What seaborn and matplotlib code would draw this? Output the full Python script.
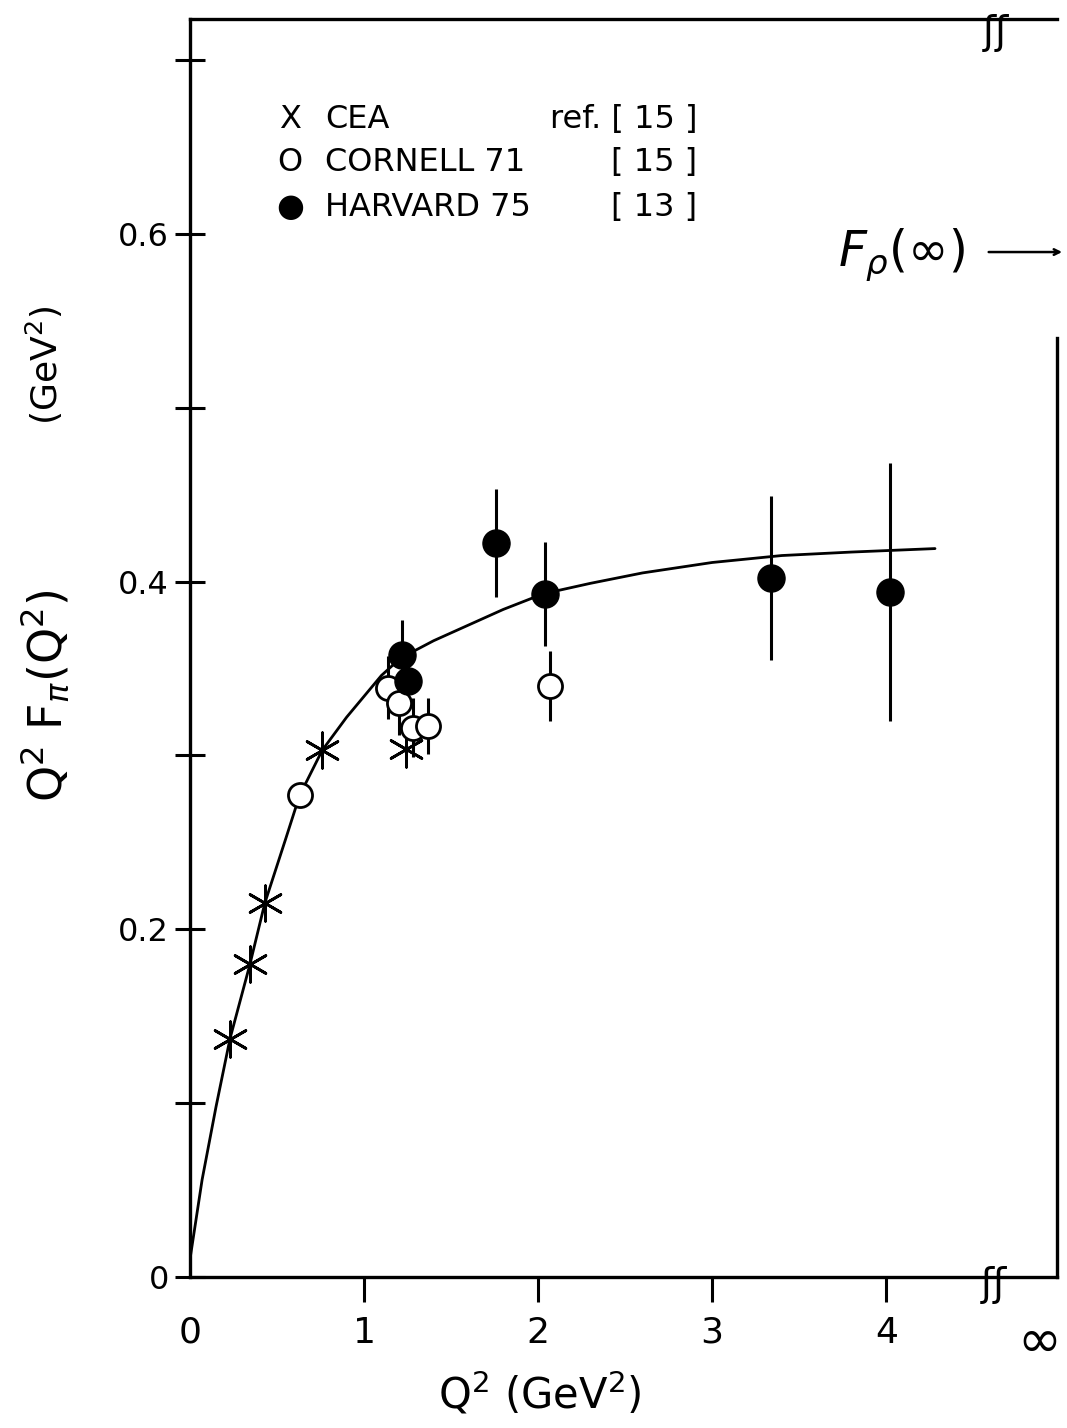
import numpy as np
import pandas as pd
import seaborn as sns
import matplotlib.pyplot as plt

# CEA, ref. [15]
cea_q2 = [0.23, 0.345, 0.43, 0.76, 1.24]
cea_val = [0.137, 0.180, 0.215, 0.303, 0.304]

# CORNELL 71, ref. [15]
cornell_q2 = [0.63, 1.14, 1.20, 1.28, 1.37, 2.07]
cornell_val = [0.277, 0.339, 0.330, 0.316, 0.317, 0.340]
cornell_err = [0.0, 0.018, 0.018, 0.017, 0.016, 0.020]

# HARVARD 75, ref. [13]
harvard_q2 = [1.22, 1.25, 1.76, 2.04, 3.34, 4.02]
harvard_val = [0.358, 0.343, 0.422, 0.393, 0.402, 0.394]
harvard_err = [0.020, 0.015, 0.031, 0.030, 0.047, 0.074]

# curve
curve_q2 = [0.0, 0.07, 0.15, 0.23, 0.345, 0.43, 0.55, 0.63, 0.76, 0.9, 1.0,
            1.1, 1.21, 1.4, 1.6, 1.8, 2.03, 2.3, 2.6, 3.0, 3.4, 3.8, 4.28]
curve_val = [0.01, 0.056, 0.098, 0.137, 0.180, 0.215, 0.252, 0.277, 0.303,
             0.322, 0.334, 0.346, 0.356, 0.366, 0.375, 0.384, 0.393, 0.399,
             0.405, 0.411, 0.415, 0.417, 0.419]

x_ticks = [0, 1, 2, 3, 4, 4.88]
x_labels = ['0', '1', '2', '3', '4', '\u221e']
y_ticks = [0, 0.1, 0.2, 0.3, 0.4, 0.5, 0.6, 0.7]
y_labels = ['0', '', '0.2', '', '0.4', '', '0.6', '']

legend_sym = ['X', 'O', '\u25cf']
legend_name = ['CEA', 'CORNELL 71', 'HARVARD 75']
legend_ref = ['ref. [ 15 ]', '[ 15 ]', '[ 13 ]']

sns.set_style("ticks")
plt.rcParams['font.family'] = ['DejaVu Sans']
plt.rcParams['text.color'] = 'black'
plt.rcParams['xtick.color'] = 'black'
plt.rcParams['ytick.color'] = 'black'

fig = plt.figure(figsize=(10.67, 14.28), dpi=100)
ax = fig.add_axes([0.178, 0.1057, 0.8125, 0.881])

sns.lineplot(x=curve_q2, y=curve_val, ax=ax, color='black', linewidth=2.0,
             sort=False, zorder=2)

ax.errorbar(cornell_q2, cornell_val, yerr=cornell_err, fmt='none',
            ecolor='black', elinewidth=2.2, capsize=0, zorder=3)
ax.errorbar(harvard_q2, harvard_val, yerr=harvard_err, fmt='none',
            ecolor='black', elinewidth=2.2, capsize=0, zorder=3)

sns.scatterplot(x=cea_q2, y=cea_val, ax=ax, marker=(6, 2, 0), s=650,
                color='black', edgecolor='black', linewidth=2.0, zorder=5)
sns.scatterplot(x=cornell_q2, y=cornell_val, ax=ax, marker='o', s=300,
                facecolor='white', edgecolor='black', linewidth=2.0, zorder=5)
sns.scatterplot(x=harvard_q2, y=harvard_val, ax=ax, marker='o', s=380,
                color='black', edgecolor='black', linewidth=1.0, zorder=6)

ax.set_xlim(0, 4.98)
ax.set_ylim(0, 0.7236)

ax.set_xticks(x_ticks)
ax.set_xticklabels(x_labels, fontsize=26)
ax.set_yticks(y_ticks)
ax.set_yticklabels(y_labels, fontsize=23)
ax.tick_params(axis='x', direction='out', length=18, width=2.2, pad=10)
ax.tick_params(axis='y', direction='inout', length=22, width=2.2, pad=4)
xt = ax.xaxis.get_major_ticks()
xt[0].tick1line.set_visible(False)
xt[-1].tick1line.set_visible(False)
xt[-1].label1.set_fontsize(38)

for s in ['left', 'bottom', 'top', 'right']:
    ax.spines[s].set_linewidth(2.4)
    ax.spines[s].set_color('black')
ax.spines['right'].set_bounds(0, 0.54)
ax.set_xlabel('')
ax.set_ylabel('')

# legend block
rows_y = [0.666, 0.641, 0.615]
for yy, sym, name, ref in zip(rows_y, legend_sym, legend_name, legend_ref):
    ax.text(0.575, yy, sym, fontsize=23, ha='center', va='center')
    ax.text(0.776, yy, name, fontsize=23, ha='left', va='center')
    ax.text(2.914, yy, ref, fontsize=23, ha='right', va='center')

# axis titles
fig.text(0.042, 0.513, 'Q$^2$ F$_\\pi$(Q$^2$)', rotation=90, fontsize=33,
         ha='center', va='center')
fig.text(0.042, 0.744, '(GeV$^2$)', rotation=90, fontsize=26,
         ha='center', va='center')
fig.text(0.506, 0.024, 'Q$^2$ (GeV$^2$)', fontsize=30, ha='center', va='center')

# asymptote label and arrow
fig.text(0.845, 0.821, '$F_\\rho(\\infty)$', fontsize=35, ha='center', va='center')
ax.annotate('', xy=(0.998, 0.8235), xytext=(0.924, 0.8235),
            xycoords='figure fraction', textcoords='figure fraction',
            arrowprops=dict(arrowstyle='->', color='black', lw=1.8))

# axis break marks
fig.text(0.933, 0.977, '\u0283\u0283', fontsize=28, ha='center', va='center')
fig.text(0.931, 0.100, '\u0283\u0283', fontsize=28, ha='center', va='center')

plt.savefig("out.png", dpi=100)
